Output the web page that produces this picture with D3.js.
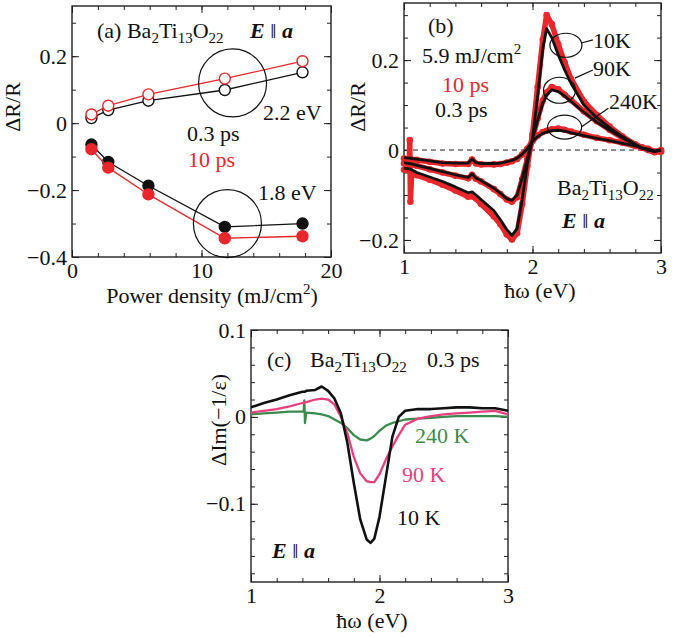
<!DOCTYPE html>
<html><head><meta charset="utf-8">
<script src="https://cdn.jsdelivr.net/npm/d3@7"></script>
<style>
body{margin:0;background:#fff}
text{font-family:"Liberation Serif","Times New Roman",serif;font-size:22px;fill:#111}
</style></head><body>
<svg id="fig" width="690" height="638"></svg>
<script>
// panel (a): power density dependence
const powerDensity = [1.5, 2.8, 5.9, 11.8, 17.8];
const hi_03ps = [0.015, 0.039, 0.067, 0.099, 0.152];   // 2.2 eV, 0.3 ps (open black)
const hi_10ps = [0.026, 0.052, 0.086, 0.133, 0.185];   // 2.2 eV, 10 ps (open red)
const lo_03ps = [-0.064, -0.116, -0.187, -0.31, -0.30];   // 1.8 eV, 0.3 ps
const lo_10ps = [-0.078, -0.133, -0.213, -0.344, -0.338]; // 1.8 eV, 10 ps

// panel (b): dR/R spectra
const eB = [1.0,1.04,1.045,1.05,1.06,1.1,1.2,1.3,1.4,1.5,1.53,1.56,1.6,1.7,1.75,1.8,1.84,1.88,1.92,1.96,2.0,2.04,2.08,2.11,2.15,2.2,2.25,2.3,2.4,2.5,2.6,2.7,2.8,2.85,2.9,2.95,3.0];
const b10K_10ps = [-0.044,-0.046,0.022,-0.115,-0.05,-0.056,-0.066,-0.077,-0.09,-0.104,-0.103,-0.108,-0.12,-0.148,-0.165,-0.188,-0.199,-0.185,-0.12,-0.035,0.035,0.14,0.245,0.30,0.28,0.235,0.195,0.158,0.108,0.078,0.052,0.03,0.012,0.006,0.0,-0.005,-0.004];
const b10K_03ps = [-0.04,-0.042,-0.042,-0.043,-0.044,-0.05,-0.06,-0.07,-0.082,-0.095,-0.093,-0.1,-0.11,-0.135,-0.155,-0.177,-0.19,-0.175,-0.11,-0.03,0.025,0.12,0.225,0.27,0.25,0.212,0.178,0.148,0.1,0.072,0.05,0.03,0.013,0.005,0.0,-0.003,0.0];
const b90K_10ps = [-0.03,-0.032,-0.032,-0.033,-0.033,-0.035,-0.043,-0.05,-0.057,-0.063,-0.055,-0.064,-0.07,-0.087,-0.098,-0.11,-0.115,-0.105,-0.065,-0.02,0.025,0.07,0.11,0.128,0.14,0.135,0.123,0.111,0.086,0.064,0.045,0.027,0.012,0.005,0.001,-0.004,0.0];
const b90K_03ps = [-0.028,-0.03,-0.03,-0.031,-0.031,-0.034,-0.041,-0.048,-0.055,-0.061,-0.053,-0.062,-0.068,-0.085,-0.096,-0.108,-0.112,-0.1,-0.062,-0.018,0.024,0.066,0.104,0.122,0.134,0.13,0.12,0.108,0.084,0.062,0.044,0.027,0.012,0.004,0.0,-0.003,0.001];
const b240K_10ps = [-0.019,-0.02,-0.02,-0.02,-0.021,-0.022,-0.026,-0.03,-0.031,-0.031,-0.021,-0.03,-0.032,-0.032,-0.031,-0.028,-0.025,-0.02,-0.01,0.003,0.02,0.032,0.04,0.043,0.046,0.048,0.045,0.041,0.034,0.027,0.022,0.016,0.009,0.006,0.003,-0.004,-0.002];
const b240K_03ps = [-0.017,-0.018,-0.018,-0.018,-0.019,-0.02,-0.024,-0.028,-0.029,-0.029,-0.02,-0.028,-0.03,-0.03,-0.029,-0.026,-0.023,-0.018,-0.009,0.003,0.019,0.03,0.037,0.04,0.043,0.044,0.042,0.038,0.032,0.026,0.021,0.015,0.009,0.005,0.002,-0.003,0.0];

// panel (c): loss function change at 0.3 ps
const eC = [1.0,1.1,1.2,1.3,1.4,1.41,1.415,1.42,1.43,1.5,1.55,1.6,1.65,1.7,1.75,1.8,1.85,1.9,1.93,1.96,2.0,2.05,2.1,2.15,2.2,2.3,2.4,2.5,2.6,2.7,2.8,2.9,3.0];
const c10K = [0.011,0.016,0.02,0.025,0.029,0.029,0.029,0.029,0.03,0.031,0.035,0.03,0.021,0.004,-0.03,-0.076,-0.118,-0.141,-0.145,-0.14,-0.115,-0.069,-0.023,0.0,0.007,0.009,0.009,0.01,0.011,0.011,0.01,0.01,0.007];
const c90K = [0.005,0.007,0.009,0.012,0.016,0.016,0.016,0.017,0.017,0.02,0.021,0.02,0.014,0.0,-0.019,-0.046,-0.065,-0.074,-0.075,-0.075,-0.066,-0.049,-0.034,-0.021,-0.009,-0.002,0.001,0.003,0.004,0.005,0.006,0.007,0.003];
const c240K = [0.003,0.004,0.005,0.006,0.006,0.006,0.019,-0.007,0.005,0.004,0.003,0.001,-0.003,-0.007,-0.013,-0.021,-0.026,-0.027,-0.025,-0.022,-0.016,-0.01,-0.007,-0.005,-0.003,-0.002,-0.001,0.0,0.001,0.001,0.001,0.001,0.0];

const RED = "#e8262b", PINK = "#e8407f", GREEN = "#3d8a4e", INK = "#111";
const svg = d3.select("#fig");

function frame(x, y, xMaj, xMin, yMaj, yMin, fmtX, fmtY){
  const g = svg.append("g");
  const [xl, xr] = x.range(), [yb, yt] = y.range();
  const add = (axis, tr) => {
    const a = g.append("g").attr("transform", tr).call(axis);
    a.select(".domain").remove();
    a.selectAll("line").attr("stroke", "#222");
    return a;
  };
  add(d3.axisBottom(x).tickValues(xMin).tickSize(-4).tickFormat(""), `translate(0,${yb})`);
  add(d3.axisBottom(x).tickValues(xMaj).tickSize(-7).tickPadding(5).tickFormat(fmtX), `translate(0,${yb})`);
  add(d3.axisTop(x).tickValues(xMin).tickSize(-4).tickFormat(""), `translate(0,${yt})`);
  add(d3.axisTop(x).tickValues(xMaj).tickSize(-7).tickFormat(""), `translate(0,${yt})`);
  add(d3.axisLeft(y).tickValues(yMin).tickSize(-4).tickFormat(""), `translate(${xl},0)`);
  add(d3.axisLeft(y).tickValues(yMaj).tickSize(-7).tickPadding(5).tickFormat(fmtY), `translate(${xl},0)`);
  add(d3.axisRight(y).tickValues(yMin).tickSize(-4).tickFormat(""), `translate(${xr},0)`);
  add(d3.axisRight(y).tickValues(yMaj).tickSize(-7).tickFormat(""), `translate(${xr},0)`);
  g.append("rect").attr("x", xl).attr("y", yt).attr("width", xr - xl).attr("height", yb - yt)
    .attr("fill", "none").attr("stroke", "#222").attr("stroke-width", 1.4);
  g.selectAll("g").attr("font-size", null).attr("font-family", null);
  return g;
}

function formula(t){
  [["Ba",0],["2",1],["Ti",0],["13",1],["O",0],["22",1]].reduce((prev, [s, sub]) => {
    t.append("tspan").text(s).attr("dy", sub === prev ? 0 : (sub ? 5 : -5))
      .style("font-size", sub ? "15px" : null);
    return sub;
  }, 0);
  return t;
}
function epar(t){
  t.append("tspan").text("E").style("font-weight", "bold").style("font-style", "italic");
  t.append("tspan").text(" \u2016 ");
  t.append("tspan").text("a").style("font-weight", "bold").style("font-style", "italic");
  return t;
}
const label = (x, y, s, c) => svg.append("text").attr("x", x).attr("y", y).attr("fill", c || INK).style("fill", c || INK).text(s);
const fmt1 = d => d === 0 ? "0" : d3.format(".1f")(d);

// ---------- (a) ----------
const xA = d3.scaleLinear().domain([0, 20]).range([72, 331]);
const yA = d3.scaleLinear().domain([-0.4, 0.35]).range([257, 6]);
frame(xA, yA, [0, 10, 20], d3.range(0, 20.01, 2), [-0.4, -0.2, 0, 0.2], d3.range(-0.4, 0.351, 0.1), d3.format("d"), fmt1);

const lineA = d3.line().x((d, i) => xA(powerDensity[i])).y(d => yA(d));
[[hi_03ps, INK, "#fff"], [lo_03ps, INK, INK], [hi_10ps, RED, "#fff"], [lo_10ps, RED, RED]].forEach(([vals, col, fill]) => {
  svg.append("path").attr("d", lineA(vals)).attr("fill", "none").attr("stroke", col).attr("stroke-width", 1.3);
  svg.append("g").selectAll("circle").data(vals).join("circle")
    .attr("cx", (d, i) => xA(powerDensity[i])).attr("cy", d => yA(d)).attr("r", 5.5)
    .attr("fill", fill).attr("stroke", col).attr("stroke-width", 1.4);
});
svg.append("circle").attr("cx", xA(12.4)).attr("cy", yA(0.12)).attr("r", 34).attr("fill", "none").attr("stroke", INK).attr("stroke-width", 1.2);
svg.append("circle").attr("cx", xA(12.0)).attr("cy", yA(-0.30)).attr("r", 34).attr("fill", "none").attr("stroke", INK).attr("stroke-width", 1.2);

formula(label(97, 38, "(a) "));
epar(label(250, 38, ""));
label(263, 120, "2.2 eV");
label(187, 141, "0.3 ps");
label(188, 167, "10 ps", RED);
label(258, 200, "1.8 eV");
svg.append("text").attr("transform", "translate(20,107) rotate(-90)").attr("text-anchor", "middle").text("\u0394R/R");
const tA = svg.append("text").attr("x", 212).attr("y", 303).attr("text-anchor", "middle").text("Power density (mJ/cm");
tA.append("tspan").text("2").attr("dy", -9).style("font-size", "15px");
tA.append("tspan").text(")").attr("dy", 9);

// ---------- (b) ----------
const xB = d3.scaleLinear().domain([1, 3]).range([404, 661]);
const yB = d3.scaleLinear().domain([-0.229, 0.327]).range([253, 3]);
frame(xB, yB, [1, 2, 3], d3.range(1, 3.001, 0.2), [-0.2, 0, 0.2], d3.range(-0.2, 0.3251, 0.05), d3.format("d"), fmt1);

svg.append("line").attr("x1", xB(1)).attr("x2", xB(3)).attr("y1", yB(0)).attr("y2", yB(0))
  .attr("stroke", "#222").attr("stroke-width", 1).attr("stroke-dasharray", "5,4");

const lineB = d3.line().x((d, i) => xB(eB[i])).y(d => yB(d));
[b240K_10ps, b90K_10ps, b10K_10ps].forEach(vals => {
  svg.append("path").attr("d", lineB(vals)).attr("fill", "none").attr("stroke", RED).attr("stroke-width", 5.5).attr("stroke-linejoin", "round");
  svg.append("g").selectAll("circle").data(vals).join("circle")
    .attr("cx", (d, i) => xB(eB[i])).attr("cy", d => yB(d)).attr("r", 3.3).attr("fill", RED);
});
[b240K_03ps, b90K_03ps, b10K_03ps].forEach(vals => {
  svg.append("path").attr("d", lineB(vals)).attr("fill", "none").attr("stroke", INK).attr("stroke-width", 2.8).attr("stroke-linejoin", "round");
});

// ellipses + leaders
const ells = [[2.26, 0.233, 16, 12], [2.21, 0.133, 16, 13], [2.25, 0.051, 17, 12]];
svg.append("g").selectAll("ellipse").data(ells).join("ellipse")
  .attr("cx", d => xB(d[0])).attr("cy", d => yB(d[1])).attr("rx", d => d[2]).attr("ry", d => d[3])
  .attr("fill", "none").attr("stroke", INK).attr("stroke-width", 1.2);
const leaders = [[2.38, 0.238, 2.47, 0.245], [2.33, 0.160, 2.47, 0.178], [2.38, 0.051, 2.59, 0.093]];
svg.append("g").selectAll("line").data(leaders).join("line")
  .attr("x1", d => xB(d[0])).attr("y1", d => yB(d[1])).attr("x2", d => xB(d[2])).attr("y2", d => yB(d[3]))
  .attr("stroke", INK).attr("stroke-width", 1.2);
label(593, 48, "10K");
label(593, 76, "90K");
label(609, 109, "240K");
label(428, 33, "(b)");
const tB = label(422, 63, "5.9 mJ/cm");
tB.append("tspan").text("2").attr("dy", -9).style("font-size", "15px");
label(442, 92, "10 ps", RED);
label(435, 117, "0.3 ps");
formula(label(557, 195, ""));
epar(label(562, 228, ""));
svg.append("text").attr("transform", "translate(365,107) rotate(-90)").attr("text-anchor", "middle").text("\u0394R/R");
label(540, 298, "\u0127\u03c9 (eV)").attr("text-anchor", "middle");

// ---------- (c) ----------
const xC = d3.scaleLinear().domain([1, 3]).range([251, 508]);
const yC = d3.scaleLinear().domain([-0.19, 0.1]).range([582, 330]);
frame(xC, yC, [1, 2, 3], d3.range(1, 3.001, 0.2), [-0.1, 0, 0.1], d3.range(-0.18, 0.1001, 0.02), d3.format("d"), fmt1);

const lineC = d3.line().x((d, i) => xC(eC[i])).y(d => yC(d)).curve(d3.curveLinear);
[[c240K, GREEN, 2.3], [c90K, PINK, 2.3], [c10K, INK, 2.6]].forEach(([vals, col, w]) => {
  svg.append("path").attr("d", lineC(vals)).attr("fill", "none").attr("stroke", col).attr("stroke-width", w).attr("stroke-linejoin", "round");
});
label(267, 367, "(c)");
formula(label(310, 367, ""));
label(427, 367, "0.3 ps");
label(415, 443, "240 K", GREEN);
label(402, 482, "90 K", PINK);
label(397, 525, "10 K");
epar(label(272, 558, ""));
svg.append("text").attr("transform", "translate(226,420) rotate(-90)").attr("text-anchor", "middle").text("\u0394Im(\u22121/\u03b5)");
label(372, 628, "\u0127\u03c9 (eV)").attr("text-anchor", "middle");
</script></body></html>
